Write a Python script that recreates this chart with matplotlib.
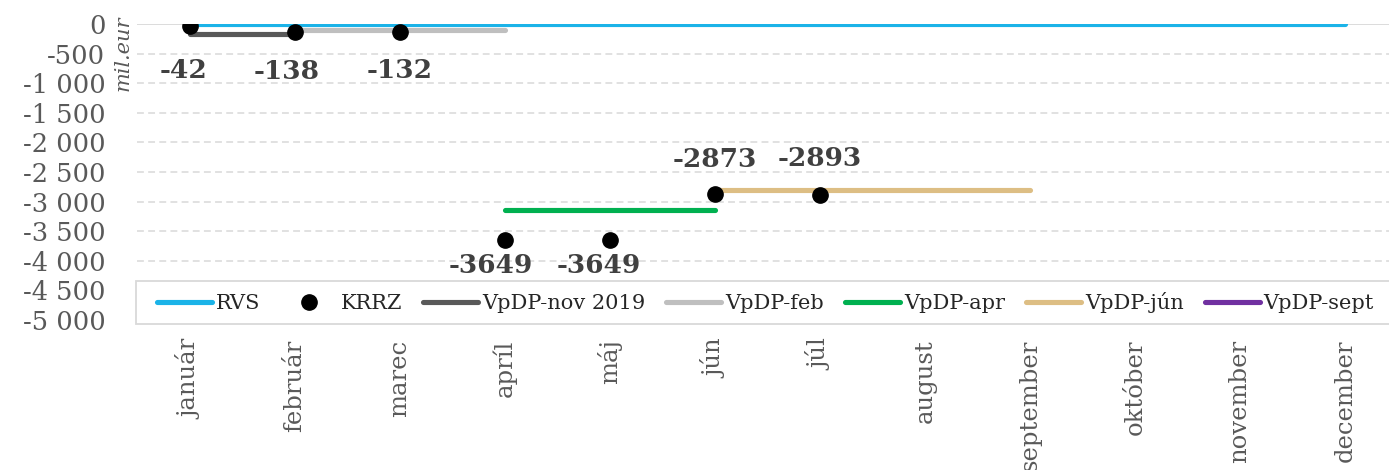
import matplotlib
matplotlib.use("Agg")
import matplotlib.pyplot as plt
from matplotlib.lines import Line2D
from matplotlib.patches import Rectangle
from matplotlib.ticker import FuncFormatter, MultipleLocator

months = ["január", "február", "marec", "apríl", "máj", "jún", "júl",
          "august", "september", "október", "november", "december"]
rvs = [0] * 12
krrz = [-42, -138, -132, -3649, -3649, -2873, -2893]
vpdp_nov2019 = [-175, -175]          # január - február
vpdp_feb = [-105, -105, -105]        # február - apríl
vpdp_apr = [-3150, -3150, -3150]     # apríl - jún
vpdp_jun = [-2800, -2800, -2800, -2800]  # jún - september
vpdp_sept = []                       # no values shown

# start month index of each forecast line
start_nov2019, start_feb, start_apr, start_jun = 0, 1, 3, 5

W, H = 1389, 470
fig = plt.figure(figsize=(W / 100, H / 100), dpi=100)
FONT = "DejaVu Serif"
plt.rcParams["font.family"] = FONT

ax_left, ax_right, ax_top, ax_bot = 137.4, 1389, 24, 320
ax = fig.add_axes([ax_left / W, 1 - ax_bot / H, (ax_right - ax_left) / W, (ax_bot - ax_top) / H])

x = list(range(len(months)))
ax.set_xlim(-0.5, (1389 - 190) / 105)
ax.set_ylim(-5000, 0)

# grid
ax.yaxis.set_major_locator(MultipleLocator(500))
for v in range(-500, -5001, -500):
    ax.axhline(v, color="#D9D9D9", lw=1.1, ls=(0, (4.5, 2.8)), zorder=1)
ax.axhline(0, color="#D9D9D9", lw=1.3, zorder=1)

lw = 3.7
ax.plot(x, rvs, color="#1BB3E8", lw=lw, solid_capstyle="round", zorder=3, label="RVS")
ax.plot(range(start_nov2019, start_nov2019 + len(vpdp_nov2019)), vpdp_nov2019,
        color="#595959", lw=lw, solid_capstyle="round", zorder=3)
ax.plot(range(start_feb, start_feb + len(vpdp_feb)), vpdp_feb,
        color="#BFBFBF", lw=lw, solid_capstyle="round", zorder=2.5)
ax.plot(range(start_apr, start_apr + len(vpdp_apr)), vpdp_apr,
        color="#00B050", lw=lw, solid_capstyle="round", zorder=3)
ax.plot(range(start_jun, start_jun + len(vpdp_jun)), vpdp_jun,
        color="#DDBE84", lw=lw, solid_capstyle="round", zorder=3)
ax.plot(range(len(krrz)), krrz, ls="none", marker="o", ms=11, color="black", zorder=4)

# data labels (offsets in pixels)
offsets = [(-6, -44.5), (-8, -39), (0, -39), (-14, -25), (-11, -25), (0, 35), (0, 37)]
for i, (v, (dx, dy)) in enumerate(zip(krrz, offsets)):
    ax.annotate(f"{v}", (i, v), xytext=(dx, dy), textcoords="offset pixels",
                ha="center", va="center", fontsize=19, fontweight="bold",
                color="#404040", family=FONT, zorder=6)

# axes styling
for s in ax.spines.values():
    s.set_visible(False)
ax.set_xticks(x)
ax.set_xticklabels(months, rotation=90, fontsize=17.5, color="#595959", family=FONT)
ax.yaxis.set_major_formatter(FuncFormatter(lambda v, p: f"{int(v):,}".replace(",", " ")))
ax.tick_params(axis="y", length=0, pad=23, labelsize=18.5, labelcolor="#595959")
ax.tick_params(axis="x", length=0, pad=14, labelcolor="#595959")
for t in ax.get_yticklabels():
    t.set_family(FONT)

fig.text(123 / W, 1 - 53 / H, "mil.eur", rotation=90, ha="center", va="center",
         fontsize=15, style="italic", color="#595959", family=FONT)

# legend frame
rect = Rectangle((136 / W, 1 - 324 / H), (1400 - 136) / W, (324 - 281) / H,
                 transform=fig.transFigure, facecolor="white", edgecolor="#D9D9D9",
                 lw=1.3, zorder=5)
fig.add_artist(rect)
handles = [
    Line2D([], [], color="#1BB3E8", lw=lw, solid_capstyle="round"),
    Line2D([], [], ls="none", marker="o", ms=11, color="black"),
    Line2D([], [], color="#595959", lw=lw, solid_capstyle="round"),
    Line2D([], [], color="#BFBFBF", lw=lw, solid_capstyle="round"),
    Line2D([], [], color="#00B050", lw=lw, solid_capstyle="round"),
    Line2D([], [], color="#DDBE84", lw=lw, solid_capstyle="round"),
    Line2D([], [], color="#7030A0", lw=lw, solid_capstyle="round"),
]
labels = ["RVS", "KRRZ", "VpDP-nov 2019", "VpDP-feb", "VpDP-apr", "VpDP-jún", "VpDP-sept"]
leg = fig.legend(handles, labels, loc="center left", bbox_to_anchor=(157 / W, 1 - 302.5 / H),
                 ncol=7, frameon=False, fontsize=15, handlelength=2.64, handletextpad=0.2,
                 columnspacing=1.0, borderpad=0, borderaxespad=0, numpoints=1,
                 prop={"family": FONT, "size": 15})
leg.set_zorder(6)
for t in leg.get_texts():
    t.set_color("#262626")

fig.savefig("out.png", dpi=100)
